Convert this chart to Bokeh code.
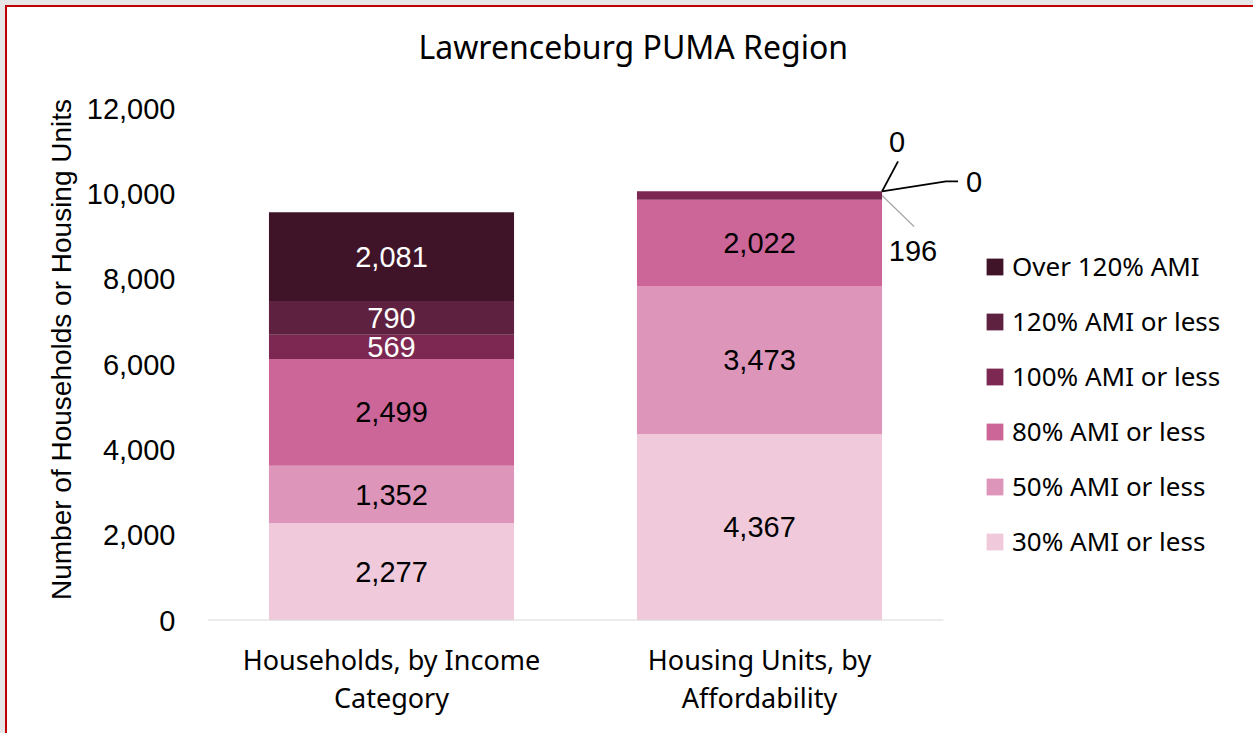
from bokeh.plotting import figure
from bokeh.models import ColumnDataSource, Legend, LegendItem, FixedTicker, NumeralTickFormatter
from bokeh.core.properties import value
from bokeh.embed import file_html
from bokeh.resources import INLINE

# ---------------- data ----------------
categories = ["Households, by Income\nCategory", "Housing Units, by\nAffordability"]
series = ["30% AMI or less", "50% AMI or less", "80% AMI or less",
          "100% AMI or less", "120% AMI or less", "Over 120% AMI"]
households = [2277, 1352, 2499, 569, 790, 2081]
housing_units = [4367, 3473, 2022, 196, 0, 0]
y_ticks = [0, 2000, 4000, 6000, 8000, 10000, 12000]
title_text = "Lawrenceburg PUMA Region"
y_label = "Number of Households or Housing Units"

# ---------------- style ----------------
colors = ["#f0cadb", "#de95ba", "#cc6699", "#7d2852", "#5e2140", "#3f1429"]
label_colors = ["black", "black", "black", "white", "white", "white"]
NUM_FONT = "Liberation Sans"
TXT_FONT = "Noto Sans"

W, H = 1253, 733
FL = 207            # frame left
Y0_PX = 620         # pixel row of value 0
Y12_PX = 108        # pixel row of value 12000
FT = 78             # frame top (a bit above 12,000 so the axis title centres like the original)
FB = H - Y0_PX
FW = W - FL
CAT_W = 368.0
PX_X = 1.0 / CAT_W
PX_Y = 12000.0 / (Y0_PX - Y12_PX)
x_end = -0.5 + FW / CAT_W
y_end = 12000 + (Y12_PX - FT) * PX_Y
BAR_W = 0.666

xs = list(range(len(categories)))
data = {"x": xs}
for s, a, b in zip(series, households, housing_units):
    data[s] = [a, b]
src = ColumnDataSource(data)

p = figure(width=W, height=H, x_range=(-0.5, x_end), y_range=(0, y_end),
           output_backend="svg", toolbar_location=None,
           min_border_left=FL, min_border_right=0, min_border_top=FT, min_border_bottom=FB)
p.styles = {"background-color": "white",
            "box-shadow": "inset 5px 5px 0 0 #e6e6e6, inset 7px 7px 0 0 #c00000"}
p.border_fill_alpha = 0
p.outline_line_color = None
p.xgrid.grid_line_color = None
p.ygrid.grid_line_color = None
p.background_fill_color = "white"

# title
p.title.text = title_text
p.title.align = "left"
p.title.offset = 211
p.title.text_font = TXT_FONT
p.title.text_font_size = "32px"
p.title.text_font_style = "normal"
p.title.text_color = "black"
p.title.standoff = 21

renderers = p.vbar_stack(series, x="x", width=BAR_W, fill_color=colors,
                         line_color=None, source=src)

# baseline
p.segment(x0=[-0.5], y0=[0], x1=[1.5], y1=[0], line_color="#d9d9d9", line_width=2)

# in-bar labels
lab_x, lab_y, lab_t, lab_c = [], [], [], []
for xi, vals in zip(xs, [households, housing_units]):
    base = 0
    for v, c in zip(vals, label_colors):
        if v >= 400:
            lab_x.append(xi)
            lab_y.append(base + v / 2.0)
            lab_t.append(f"{v:,}")
            lab_c.append(c)
        base += v
p.text(x=lab_x, y=lab_y, text=lab_t, text_color=lab_c, text_align="center",
       text_baseline="middle", text_font=value(NUM_FONT), text_font_size="29px")

# callouts for thin segments of second bar (pixel offsets: dx right, dy down)
callouts = {
    3: dict(anchor="mid", line=[(0, 0), (32, 31)], text=(31, 55), color="#a6a6a6", lw=1.2),
    4: dict(anchor="top", line=[(0, 0), (16, -30)], text=(15, -49), color="black", lw=1.8),
    5: dict(anchor="top", line=[(0, 0), (64, -10), (76, -10)], text=(92, -9), color="black", lw=1.8),
}
xi = 1
vals = housing_units
total = sum(vals)
right_edge = xi + BAR_W / 2.0
for idx, st in callouts.items():
    base = sum(vals[:idx])
    ay = base + vals[idx] / 2.0 if st["anchor"] == "mid" else total
    lx = [right_edge + dx * PX_X for dx, dy in st["line"]]
    ly = [ay - dy * PX_Y for dx, dy in st["line"]]
    p.line(lx, ly, line_color=st["color"], line_width=st["lw"])
    p.text(x=[right_edge], y=[ay], text=[f"{vals[idx]:,}"], x_offset=st["text"][0],
           y_offset=st["text"][1], text_align="center", text_baseline="middle",
           text_font=value(NUM_FONT), text_font_size="29px", text_color="black")

# axes
p.xaxis.ticker = FixedTicker(ticks=xs)
p.xaxis.major_label_overrides = {i: c for i, c in zip(xs, categories)}
p.xaxis.axis_line_color = None
p.xaxis.major_tick_line_color = None
p.xaxis.minor_tick_line_color = None
p.xaxis.major_tick_out = 0
p.xaxis.major_tick_in = 0
p.xaxis.major_label_text_font = TXT_FONT
p.xaxis.major_label_text_font_size = "27px"
p.xaxis.major_label_text_color = "black"
p.xaxis.major_label_text_line_height = 1.03
p.xaxis.major_label_standoff = 20

p.yaxis.ticker = FixedTicker(ticks=y_ticks)
p.yaxis.formatter = NumeralTickFormatter(format="0,0")
p.yaxis.axis_line_color = None
p.yaxis.major_tick_line_color = None
p.yaxis.minor_tick_line_color = None
p.yaxis.major_tick_out = 0
p.yaxis.major_tick_in = 0
p.yaxis.major_label_text_font = NUM_FONT
p.yaxis.major_label_text_font_size = "29px"
p.yaxis.major_label_text_color = "black"
p.yaxis.major_label_standoff = 32
p.yaxis.axis_label = y_label
p.yaxis.axis_label_text_font = NUM_FONT
p.yaxis.axis_label_text_font_size = "28px"
p.yaxis.axis_label_text_font_style = "normal"
p.yaxis.axis_label_text_color = "black"
p.yaxis.axis_label_standoff = 7

# legend
items = [LegendItem(label=s, renderers=[r]) for s, r in zip(series, renderers)][::-1]
legend = Legend(items=items, location=(777, 61), padding=0, margin=0,
                glyph_width=21, glyph_height=21, label_standoff=7,
                label_text_font=TXT_FONT, label_text_font_size="26px",
                label_text_color="black",
                label_height=20, spacing=19, border_line_color=None,
                background_fill_alpha=0)
p.add_layout(legend, "center")

open("out.html", "w").write(file_html(p, INLINE))
